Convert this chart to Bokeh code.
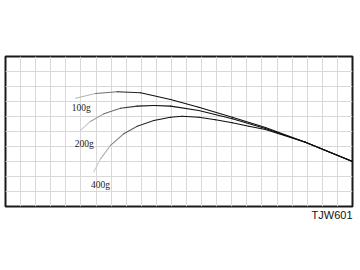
from bokeh.plotting import figure
from bokeh.models import Range1d, FixedTicker, Title
from bokeh.embed import file_html
from bokeh.resources import INLINE
from bokeh.core.properties import value

# Deflection curves (grid units: 23 columns x 10 rows)
x_100 = [4.64, 5.97, 7.40, 8.95, 10.94, 12.81, 15.03, 17.23, 19.88, 23.0]
y_100 = [7.22, 7.53, 7.65, 7.58, 7.13, 6.62, 5.95, 5.27, 4.29, 3.0]

x_200 = [4.97, 5.63, 6.52, 7.62, 8.73, 9.83, 10.94, 12.81, 15.03, 17.23, 19.88, 23.0]
y_200 = [5.07, 5.67, 6.18, 6.55, 6.69, 6.73, 6.69, 6.40, 5.85, 5.20, 4.29, 3.0]

x_400 = [5.85, 6.30, 6.96, 7.84, 8.73, 9.83, 10.94, 11.71, 12.81, 13.92, 15.03, 16.13, 17.23, 19.88, 23.0]
y_400 = [2.30, 3.18, 4.07, 4.85, 5.35, 5.73, 5.95, 6.02, 5.95, 5.78, 5.58, 5.35, 5.13, 4.29, 3.0]

labels = ["100g", "200g", "400g"]
label_x = [5.02, 5.22, 6.30]
label_y = [6.55, 4.18, 1.42]
model_name = "TJW601"

p = figure(width=360, height=270, output_backend="svg", toolbar_location=None,
           x_range=Range1d(0, 23), y_range=Range1d(0, 10))
p.min_border_left = 5
p.min_border_right = 8
p.min_border_top = 56
p.min_border_bottom = 64
p.axis.visible = False
p.xgrid.ticker = FixedTicker(ticks=list(range(1, 23)))
p.ygrid.ticker = FixedTicker(ticks=list(range(1, 10)))
p.grid.grid_line_color = "#d9d9d9"
p.grid.grid_line_width = 1
p.outline_line_color = "#1a1a1a"
p.outline_line_width = 2
p.background_fill_color = "white"
p.border_fill_color = "white"


def draw(xs, ys, fade=4.0):
    x0s, y0s, x1s, y1s, cols = [], [], [], [], []
    start = xs[0]
    for i in range(len(xs) - 1):
        xm = (xs[i] + xs[i + 1]) / 2
        t = min(1.0, max(0.0, (xm - start) / fade))
        g = int(215 - t * (215 - 15))
        x0s.append(xs[i]); y0s.append(ys[i]); x1s.append(xs[i + 1]); y1s.append(ys[i + 1])
        cols.append("#%02x%02x%02x" % (g, g, g))
    p.segment(x0s, y0s, x1s, y1s, line_color=cols, line_width=1.1, line_cap="round")


draw(x_400, y_400)
draw(x_200, y_200)
draw(x_100, y_100)

p.text(x=label_x, y=label_y, text=labels, text_font=value("Liberation Serif"),
       text_font_size="9.5px", text_align="center", text_baseline="middle",
       text_color="#222222")

p.add_layout(Title(text=model_name, align="right", text_font="Liberation Sans",
                   text_font_size="11px", text_font_style="normal",
                   text_color="#111111", standoff=0, offset=0), "below")

open("out.html", "w").write(file_html(p, INLINE))
